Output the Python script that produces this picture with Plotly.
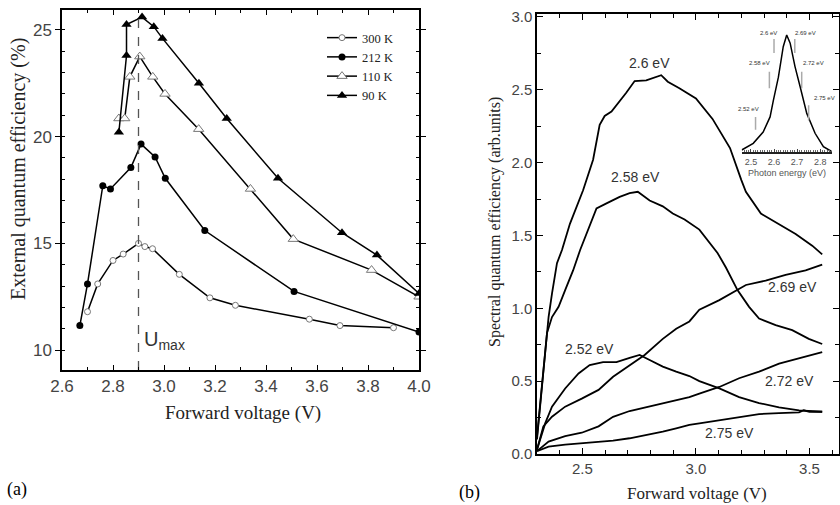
import plotly.graph_objects as go

# ---- panel (a): external quantum efficiency vs forward voltage ----
v_300 = [2.70, 2.74, 2.80, 2.84, 2.90, 2.925, 2.955, 3.06, 3.18, 3.28, 3.57, 3.69, 3.90]
eqe_300 = [11.8, 13.1, 14.2, 14.5, 15.0, 14.85, 14.75, 13.55, 12.45, 12.1, 11.45, 11.15, 11.05]

v_212 = [2.67, 2.70, 2.76, 2.79, 2.87, 2.91, 2.965, 3.005, 3.16, 3.51, 4.0]
eqe_212 = [11.15, 13.1, 17.7, 17.55, 18.55, 19.65, 19.05, 18.05, 15.6, 12.75, 10.85]

v_110 = [2.823, 2.846, 2.866, 2.905, 2.956, 3.004, 3.136, 3.339, 3.507, 3.814, 4.0]
eqe_110 = [20.85, 20.85, 22.8, 23.75, 22.8, 22.0, 20.35, 17.55, 15.2, 13.75, 12.5]

v_90 = [2.823, 2.853, 2.853, 2.914, 2.96, 2.994, 3.137, 3.246, 3.447, 3.698, 3.835, 4.0]
eqe_90 = [20.2, 23.8, 25.25, 25.6, 25.15, 24.6, 22.5, 20.85, 18.05, 15.5, 14.45, 12.65]

U_MAX = 2.9

# ---- panel (b): spectral quantum efficiency vs forward voltage ----
v_260 = [2.30, 2.322, 2.351, 2.366, 2.388, 2.41, 2.445, 2.503, 2.547, 2.576, 2.598, 2.628,
         2.664, 2.693, 2.73, 2.781, 2.847, 2.876, 2.927, 3.0, 3.073, 3.15, 3.20, 3.22,
         3.286, 3.351, 3.439, 3.512, 3.556]
s_260 = [0.12, 0.485, 0.94, 1.10, 1.31, 1.40, 1.58, 1.81, 2.02, 2.26, 2.32, 2.35,
         2.42, 2.48, 2.56, 2.565, 2.60, 2.555, 2.51, 2.44, 2.30, 2.10, 1.88, 1.80,
         1.65, 1.59, 1.51, 1.43, 1.37]

v_258 = [2.30, 2.322, 2.344, 2.366, 2.395, 2.424, 2.459, 2.49, 2.518, 2.562, 2.606, 2.664,
         2.708, 2.744, 2.796, 2.854, 2.898, 2.95, 3.015, 3.095, 3.132, 3.183, 3.234, 3.278,
         3.351, 3.424, 3.497, 3.556]
s_258 = [0.10, 0.45, 0.83, 0.94, 1.01, 1.125, 1.26, 1.40, 1.51, 1.685, 1.72, 1.765,
         1.79, 1.80, 1.74, 1.70, 1.65, 1.61, 1.54, 1.38, 1.28, 1.125, 1.01, 0.93,
         0.885, 0.85, 0.79, 0.755]

v_269 = [2.30, 2.328, 2.366, 2.424, 2.497, 2.571, 2.635, 2.708, 2.774, 2.854, 2.913, 2.971,
         3.015, 3.103, 3.183, 3.22, 3.307, 3.395, 3.483, 3.556]
s_269 = [0.03, 0.19, 0.256, 0.325, 0.38, 0.44, 0.53, 0.61, 0.68, 0.79, 0.86, 0.91,
         0.99, 1.056, 1.125, 1.16, 1.19, 1.23, 1.26, 1.30]

v_252 = [2.30, 2.336, 2.366, 2.424, 2.483, 2.532, 2.591, 2.65, 2.708, 2.752, 2.796, 2.854,
         2.913, 2.971, 3.015, 3.103, 3.19, 3.278, 3.366, 3.454, 3.556]
s_252 = [0.03, 0.21, 0.325, 0.45, 0.553, 0.61, 0.63, 0.63, 0.66, 0.68, 0.645, 0.60,
         0.565, 0.535, 0.50, 0.45, 0.39, 0.35, 0.32, 0.30, 0.29]

v_272 = [2.30, 2.351, 2.424, 2.497, 2.571, 2.635, 2.708, 2.781, 2.854, 2.913, 2.971, 3.015,
         3.103, 3.19, 3.278, 3.366, 3.454, 3.556]
s_272 = [0.02, 0.085, 0.123, 0.146, 0.19, 0.255, 0.295, 0.32, 0.35, 0.365, 0.39, 0.415,
         0.46, 0.52, 0.565, 0.62, 0.656, 0.70]

v_275 = [2.30, 2.351, 2.424, 2.497, 2.571, 2.635, 2.708, 2.781, 2.854, 2.913, 2.971, 3.015,
         3.103, 3.19, 3.278, 3.366, 3.454, 3.475, 3.50, 3.556]
s_275 = [0.02, 0.05, 0.065, 0.075, 0.085, 0.092, 0.108, 0.13, 0.153, 0.176, 0.20, 0.21,
         0.233, 0.256, 0.274, 0.28, 0.286, 0.30, 0.29, 0.29]

# ---- inset: emission spectrum ----
e_ph = [2.46, 2.51, 2.553, 2.583, 2.597, 2.619, 2.64, 2.655, 2.67, 2.691, 2.713, 2.742,
        2.778, 2.814, 2.851]
el_int = [0.017, 0.074, 0.17, 0.30, 0.44, 0.64, 0.90, 1.0, 0.93, 0.73, 0.56, 0.33,
          0.16, 0.045, 0.003]
mark_e = [2.52, 2.58, 2.60, 2.69, 2.72, 2.75]
mark_lo = [0.19, 0.544, 0.846, 0.846, 0.544, 0.27]
mark_hi = [0.30, 0.686, 0.966, 0.966, 0.686, 0.40]
mark_txt = ["2.52 eV", "2.58 eV", "2.6 eV", "2.69 eV", "2.72 eV", "2.75 eV"]

SERIF = "Liberation Serif"
SANS = "Liberation Sans"
W, H = 840, 505

fig = go.Figure()

series_a = [
    ("300 K", v_300, eqe_300, dict(symbol="circle", size=6, color="white", line=dict(color="#777", width=1))),
    ("212 K", v_212, eqe_212, dict(symbol="circle", size=7, color="black")),
    ("110 K", v_110, eqe_110, dict(symbol="triangle-up", size=9, color="white", line=dict(color="#777", width=1))),
    ("90 K", v_90, eqe_90, dict(symbol="triangle-up", size=9, color="black")),
]
for name, xs, ys, mk in series_a:
    fig.add_trace(go.Scatter(x=xs, y=ys, name=name, mode="lines+markers",
                             line=dict(color="black", width=1.5), marker=mk,
                             xaxis="x", yaxis="y"))

fig.add_trace(go.Scatter(x=[U_MAX, U_MAX], y=[9.07, max(eqe_90)], mode="lines",
                         line=dict(color="#555", width=1.3, dash="dash"),
                         showlegend=False, xaxis="x", yaxis="y"))

for xs, ys in [(v_260, s_260), (v_258, s_258), (v_269, s_269),
               (v_252, s_252), (v_272, s_272), (v_275, s_275)]:
    fig.add_trace(go.Scatter(x=xs, y=ys, mode="lines", line=dict(color="black", width=1.8),
                             showlegend=False, xaxis="x2", yaxis="y2"))

fig.add_trace(go.Scatter(x=e_ph, y=el_int, mode="lines", line=dict(color="black", width=1.5),
                         showlegend=False, xaxis="x3", yaxis="y3"))
mx, my = [], []
for e, lo, hi in zip(mark_e, mark_lo, mark_hi):
    mx += [e, e, None]
    my += [lo, hi, None]
fig.add_trace(go.Scatter(x=mx, y=my, mode="lines", line=dict(color="#aaa", width=1.5),
                         showlegend=False, xaxis="x3", yaxis="y3"))


def px_x(p):
    return p / W


def px_y(p):
    return (H - p) / H


tickfont_a = dict(family=SANS, size=17, color="#444")
tickfont_b = dict(family=SANS, size=15, color="#444")
axis_common = dict(showline=True, linecolor="black", linewidth=1.5, mirror="allticks",
                   showgrid=False, zeroline=False, tickcolor="black", tickwidth=1.2,
                   automargin=False)

fig.update_layout(
    width=W, height=H, margin=dict(l=0, r=0, t=0, b=0, pad=0, autoexpand=False),
    plot_bgcolor="white", paper_bgcolor="white",
    xaxis=dict(domain=[px_x(62), px_x(419)], range=[2.6, 4.0], anchor="y",
               tick0=2.6, dtick=0.2, tickformat=".1f", ticks="inside", ticklen=5,
               minor=dict(dtick=0.1, ticks="inside", ticklen=3, tickcolor="black"),
               tickfont=tickfont_a, **axis_common),
    yaxis=dict(domain=[px_y(370), px_y(10)], range=[9.07, 25.93], anchor="x",
               tick0=0, dtick=5, ticks="outside", ticklen=5,
               minor=dict(dtick=1, ticks="inside", ticklen=3, tickcolor="black"),
               tickfont=tickfont_a, **axis_common),
    xaxis2=dict(domain=[px_x(537), px_x(839)], range=[2.3, 3.63], anchor="y2",
                tick0=2.5, dtick=0.5, tickformat=".1f", ticks="inside", ticklen=6,
                minor=dict(dtick=0.1, ticks="inside", ticklen=4, tickcolor="black"),
                tickfont=tickfont_b, **axis_common),
    yaxis2=dict(domain=[px_y(454), px_y(14)], range=[0, 3.02], anchor="x2",
                tick0=0, dtick=0.5, tickformat=".1f", ticks="inside", ticklen=6,
                minor=dict(dtick=0.25, ticks="inside", ticklen=4, tickcolor="black"),
                tickfont=tickfont_b, **axis_common),
    xaxis3=dict(domain=[px_x(741.7), px_x(831.7)], range=[2.46, 2.85], anchor="y3",
                tick0=2.5, dtick=0.1, tickformat=".1f", ticks="inside", ticklen=3,
                minor=dict(dtick=0.01, ticks="inside", ticklen=2, tickcolor="#666"),
                showline=True, linecolor="#222", linewidth=1.5, showgrid=False, zeroline=False,
                automargin=False, tickfont=dict(family=SANS, size=9, color="#555")),
    yaxis3=dict(domain=[px_y(152), px_y(24.5)], range=[0, 1.09], anchor="x3", visible=False,
                automargin=False),
    legend=dict(x=px_x(322), y=px_y(23), xanchor="left", yanchor="top",
                bgcolor="rgba(0,0,0,0)", font=dict(family=SERIF, size=12.5, color="#222"),
                tracegroupgap=0, itemwidth=30),
)

ann = []


def label(text, x, y, size, family=SERIF, color="#222", angle=0, xref="paper", yref="paper",
          xanchor="center"):
    ann.append(dict(text=text, x=x, y=y, xref=xref, yref=yref, showarrow=False,
                    xanchor=xanchor, yanchor="middle", textangle=angle,
                    font=dict(family=family, size=size, color=color)))


# axis titles and panel tags
label("Forward voltage (V)", px_x(243), px_y(413), 19)
label("External quantum efficiency (%)", px_x(19), px_y(169), 20, angle=-90)
label("Forward voltage (V)", px_x(697), px_y(493), 17)
label("Spectral quantum efficiency (arb.units)", px_x(495), px_y(222), 16, angle=-90)
label("(a)", px_x(17), px_y(489), 18, color="black")
label("(b)", px_x(469), px_y(492), 18, color="black")
label("U<sub>max</sub>", 2.915, 10.45, 20, family=SANS, color="#333", xref="x", yref="y",
      xanchor="left")

# curve labels in (b)
for txt, x, y in [("2.6 eV", 2.796, 2.684), ("2.58 eV", 2.734, 1.90), ("2.69 eV", 3.424, 1.147),
                  ("2.52 eV", 2.532, 0.72), ("2.72 eV", 3.41, 0.503), ("2.75 eV", 3.146, 0.146)]:
    label(txt, x, y, 14, family=SANS, color="#333", xref="x2", yref="y2")

# inset labels
for txt, x, y in zip(mark_txt, [2.488, 2.539, 2.575, 2.735, 2.771, 2.817],
                     [0.368, 0.763, 1.02, 1.02, 0.763, 0.459]):
    label(txt, x, y, 6, family=SANS, color="#333", xref="x3", yref="y3")
label("Photon energy (eV)", px_x(786.7), px_y(172.7), 9, family=SANS, color="#555")

fig.update_layout(annotations=ann)

fig.write_html("out.html", config={"displayModeBar": False},
               post_script="document.body.style.margin='0px';")
